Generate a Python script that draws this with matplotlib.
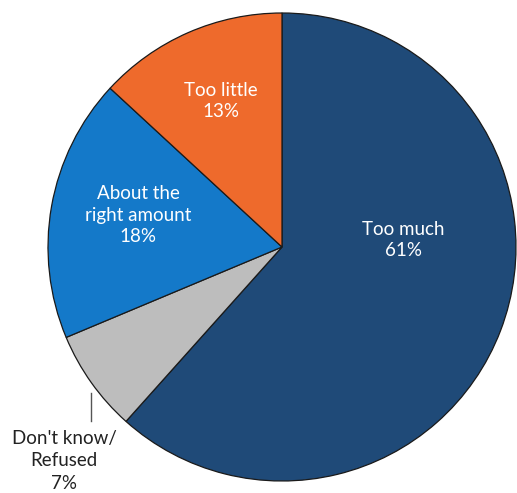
import matplotlib
matplotlib.use("Agg")
import matplotlib.pyplot as plt

categories = ["Too much", "Don't know/\nRefused", "About the\nright amount", "Too little"]
values = [61, 7, 18, 13]
colors = ["#1F4A78", "#BDBDBD", "#1479C9", "#EE6A2C"]

W, H = 517, 493
fig = plt.figure(figsize=(W / 100, H / 100), dpi=100)
ax = fig.add_axes([0, 0, 1, 1])

cx, cy, r = 282, H - 247, 234
ax.pie(values, colors=colors, startangle=90, counterclock=False,
       center=(cx, cy), radius=r, frame=True,
       wedgeprops=dict(edgecolor="#1a1a1a", linewidth=0.9))
ax.set_xlim(0, W)
ax.set_ylim(0, H)
ax.set_aspect("equal")
ax.axis("off")

# label positions in image pixel coords (x, y of text centre)
label_pos = [(403, 240), (64, 461), (138, 215), (221, 101)]
text_colors = ["white", "#222222", "white", "white"]
spacings = [1.3, 1.4, 1.3, 1.3]
for cat, v, (x, y), tc, ls in zip(categories, values, label_pos, text_colors, spacings):
    ax.text(x, H - y, f"{cat}\n{v}%", ha="center", va="center", color=tc,
            fontsize=13.5, family=["Lato", "DejaVu Sans"], linespacing=ls)

# leader line for Don't know/Refused
ax.plot([91, 91], [H - 393, H - 421], color="#555555", linewidth=1.0)

fig.savefig("out.png", dpi=100, facecolor="white")
